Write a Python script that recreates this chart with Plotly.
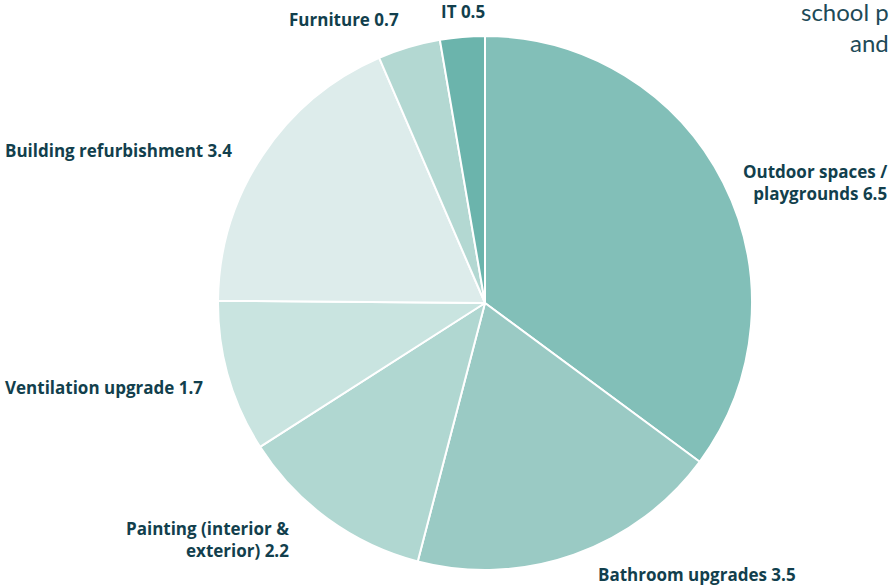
import plotly.graph_objects as go

W, H = 891, 585

categories = ["Outdoor spaces / playgrounds", "Bathroom upgrades", "Painting (interior & exterior)",
              "Ventilation upgrade", "Building refurbishment", "Furniture", "IT"]
values = [6.5, 3.5, 2.2, 1.7, 3.4, 0.7, 0.5]
label_texts = ["Outdoor spaces /<br>playgrounds 6.5", "Bathroom upgrades 3.5",
               "Painting (interior &<br>exterior) 2.2", "Ventilation upgrade 1.7",
               "Building refurbishment 3.4", "Furniture 0.7", "IT 0.5"]
colors = ["#82bfb8", "#9acac4", "#b0d7d1", "#c9e4e0", "#ddeceb", "#b3d8d2", "#6bb4ac"]

# label placement in window pixels (x, y, xanchor, align)
label_pos = [
    (889, 182, "right", "right"),
    (596, 574, "left", "left"),
    (291, 539, "right", "right"),
    (3, 387, "left", "left"),
    (3, 150, "left", "left"),
    (287, 20, "left", "left"),
    (439, 11, "left", "left"),
]

cx, cy, r = 485, 303, 267


def px(x, y):
    return x / W, 1 - y / H


fig = go.Figure(go.Pie(
    labels=categories, values=values, sort=False, direction="clockwise", rotation=0,
    marker=dict(colors=colors, line=dict(color="white", width=2)),
    textinfo="none", hoverinfo="label+value", showlegend=False,
    domain=dict(x=[(cx - r) / W, (cx + r) / W], y=[1 - (cy + r) / H, 1 - (cy - r) / H]),
))

font = dict(family="Open Sans", size=17, color="#123f4d", weight="bold")
anns = []
for t, (x, y, xa, al) in zip(label_texts, label_pos):
    ax, ay = px(x, y)
    anns.append(dict(text=t, x=ax, y=ay, xref="paper", yref="paper",
                     xanchor=xa, yanchor="middle", align=al, showarrow=False, font=font))
anns.append(dict(text="school p<br>and", x=1.0, y=px(0, 27)[1], xref="paper", yref="paper",
                 xanchor="right", yanchor="middle", align="right", showarrow=False,
                 font=dict(family="Lato", size=24, color="#1e4a57")))

fig.update_layout(width=W, height=H, margin=dict(l=0, r=0, t=0, b=0),
                  paper_bgcolor="white", plot_bgcolor="white", annotations=anns)
fig.write_html("out.html", config={"displayModeBar": False},
               post_script="document.body.style.margin='0';document.body.style.overflow='hidden';")
